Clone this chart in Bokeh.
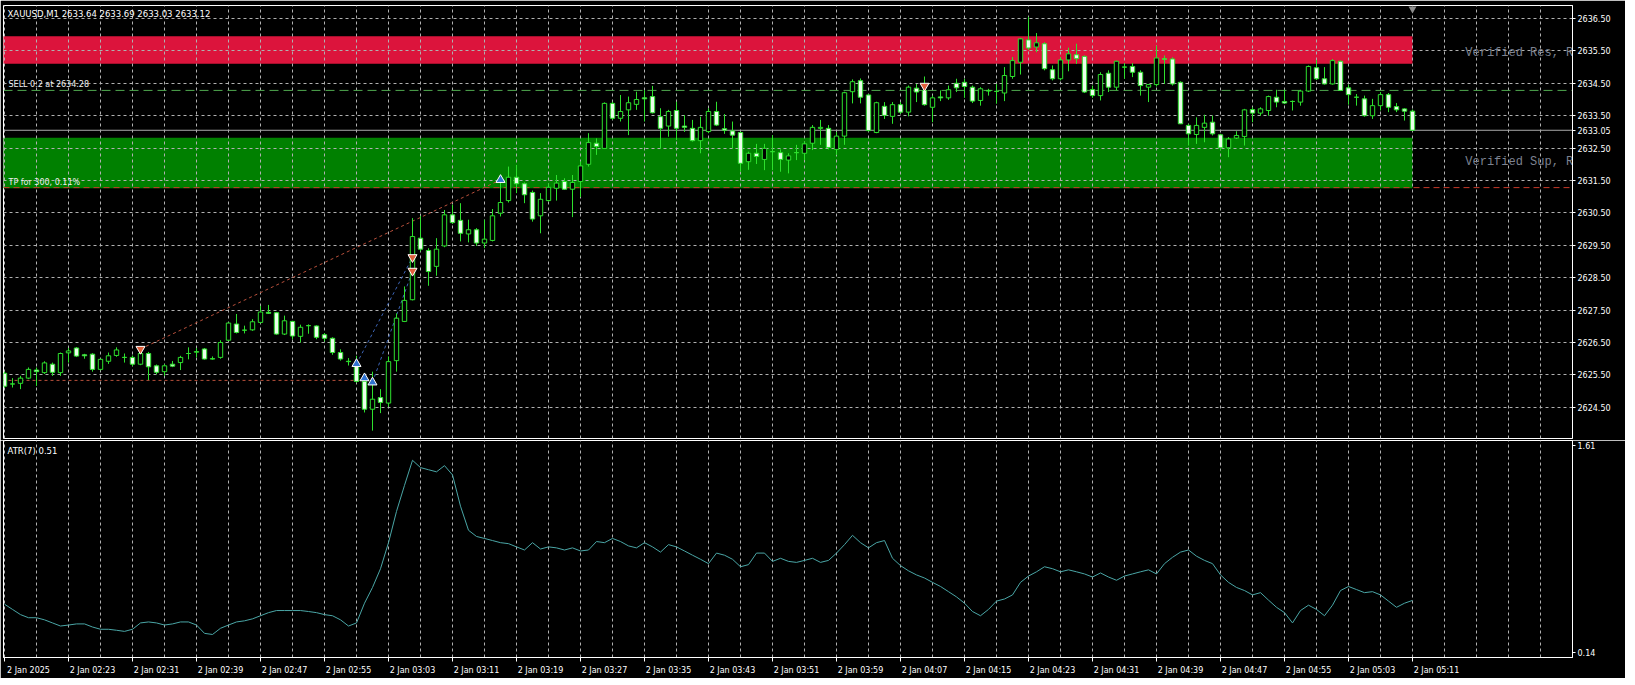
from bokeh.plotting import figure
from bokeh.models import Range1d, LinearAxis, FixedTicker, Grid, PrintfTickFormatter, Span
from bokeh.layouts import column
from bokeh.embed import file_html
from bokeh.resources import INLINE
from bokeh.core.properties import value

# ---------------- data ----------------
opens = [2625.55,2625.22,2625.24,2625.40,2625.65,2625.57,2625.83,2625.57,2626.18,2626.33,
         2626.12,2626.14,2625.67,2625.92,2626.10,2626.04,2626.04,2625.83,2626.16,2625.78,
         2625.60,2625.83,2625.88,2626.16,2626.20,2626.30,2626.00,2626.04,2626.57,2627.07,
         2626.88,2626.89,2627.12,2627.43,2627.42,2626.76,2627.15,2626.69,2627.02,2627.01,
         2626.74,2626.63,2626.19,2625.91,2625.76,2625.30,2624.44,2624.80,2624.63,2625.94,
         2627.15,2627.82,2629.72,2629.34,2628.85,2629.48,2630.44,2630.27,2629.85,2629.98,
         2629.57,2629.65,2630.49,2630.88,2631.60,2631.40,2631.13,2630.41,2630.88,2631.26,
         2631.47,2631.23,2631.47,2632.00,2632.65,2632.49,2633.88,2633.42,2633.68,2633.85,
         2634.05,2634.09,2633.47,2633.18,2633.66,2633.18,2633.11,2632.73,2633.01,2633.63,
         2633.10,2633.03,2632.98,2632.08,2632.34,2632.15,2632.39,2632.36,2632.13,2632.36,
         2632.34,2632.65,2633.11,2633.11,2632.46,2632.87,2634.24,2634.58,2634.14,2632.98,
         2633.79,2633.48,2633.84,2633.61,2634.35,2634.28,2633.76,2634.08,2634.05,2634.50,
         2634.53,2634.38,2633.97,2634.28,2634.25,2634.20,2634.71,2635.15,2635.84,2635.62,
         2635.72,2634.92,2634.64,2635.22,2635.38,2635.33,2634.31,2634.12,2634.81,2634.38,
         2635.00,2635.02,2634.84,2634.38,2634.46,2635.26,2635.25,2634.53,2633.20,2632.92,
         2633.14,2633.30,2632.91,2632.51,2632.81,2632.86,2633.69,2633.58,2633.66,2634.07,
         2633.94,2633.94,2633.92,2634.26,2634.98,2634.64,2634.48,2635.18,2634.36,2634.07,
         2634.02,2633.50,2633.81,2634.15,2633.78,2633.71,2633.64]
highs = [2625.60,2625.40,2625.47,2625.73,2625.73,2625.92,2625.88,2626.19,2626.33,2626.36,
         2626.15,2626.17,2626.00,2626.19,2626.35,2626.16,2626.10,2626.20,2626.21,2625.82,
         2625.83,2625.93,2626.09,2626.35,2626.33,2626.33,2626.07,2626.57,2627.12,2627.38,
         2627.02,2627.22,2627.63,2627.66,2627.44,2627.33,2627.17,2627.05,2627.06,2627.03,
         2626.79,2626.66,2626.29,2626.02,2626.09,2625.55,2625.60,2625.06,2626.07,2627.40,
         2628.23,2630.34,2630.41,2629.41,2629.72,2630.59,2630.75,2630.80,2630.29,2630.03,
         2630.29,2630.62,2631.57,2631.93,2631.98,2631.44,2631.19,2631.11,2631.40,2631.67,
         2631.57,2631.67,2632.09,2632.96,2632.80,2633.91,2633.93,2634.14,2634.09,2634.24,
         2634.29,2634.42,2633.73,2633.68,2633.93,2633.52,2633.37,2633.47,2633.73,2633.93,
         2633.55,2633.32,2633.01,2632.39,2632.63,2632.63,2632.90,2632.46,2632.34,2632.60,
         2632.70,2633.21,2633.37,2633.21,2633.00,2634.24,2634.62,2634.65,2634.17,2633.93,
         2633.92,2633.92,2633.92,2634.43,2634.48,2634.71,2634.12,2634.28,2634.43,2634.64,
         2634.64,2634.43,2634.38,2634.33,2634.48,2635.00,2635.31,2635.90,2636.55,2636.05,
         2635.77,2635.05,2635.31,2635.60,2635.72,2635.36,2634.43,2634.84,2634.90,2635.20,
         2635.12,2635.12,2634.90,2634.48,2635.66,2635.36,2635.30,2634.56,2633.25,2633.45,
         2633.53,2633.50,2632.94,2632.84,2633.02,2633.71,2633.76,2633.76,2634.12,2634.30,
         2634.30,2633.97,2634.30,2635.05,2635.22,2635.00,2635.25,2635.20,2634.46,2634.17,
         2634.12,2634.02,2634.23,2634.20,2633.89,2633.73,2633.69]
lows = [2625.10,2625.11,2625.06,2625.37,2625.16,2625.53,2625.47,2625.47,2625.88,2626.05,
        2626.00,2625.60,2625.64,2625.84,2626.06,2625.88,2625.77,2625.80,2625.34,2625.52,
        2625.47,2625.74,2625.65,2625.98,2626.04,2625.97,2625.97,2626.00,2626.55,2626.78,
        2626.78,2626.86,2627.09,2627.38,2626.74,2626.73,2626.60,2626.50,2626.77,2626.60,
        2626.53,2626.12,2625.94,2625.79,2625.26,2624.34,2623.78,2624.32,2624.52,2625.60,
        2627.13,2627.80,2629.31,2628.25,2628.56,2629.44,2630.16,2629.62,2629.59,2629.48,
        2629.41,2629.62,2630.39,2630.82,2631.11,2630.80,2630.23,2629.87,2630.85,2630.88,
        2631.21,2630.37,2630.99,2631.93,2632.29,2632.47,2633.37,2633.32,2632.90,2633.68,
        2633.32,2633.57,2632.49,2632.85,2632.75,2633.00,2632.70,2632.34,2632.96,2633.18,
        2632.94,2632.49,2631.77,2631.83,2632.01,2631.82,2631.82,2631.77,2631.72,2632.13,
        2632.13,2632.44,2632.60,2632.46,2632.29,2632.60,2633.88,2633.88,2633.01,2632.96,
        2633.40,2633.25,2633.56,2633.48,2633.92,2633.81,2633.30,2633.95,2633.99,2634.23,
        2634.05,2633.89,2633.81,2634.12,2633.87,2633.95,2634.64,2634.77,2635.53,2635.46,
        2634.90,2634.59,2634.59,2634.87,2635.10,2634.20,2634.05,2633.97,2634.23,2634.28,
        2634.64,2634.69,2634.12,2633.92,2634.40,2634.48,2634.43,2633.25,2632.58,2632.63,
        2632.68,2632.89,2632.44,2632.22,2632.78,2632.58,2633.30,2633.50,2633.50,2633.76,
        2633.86,2633.66,2633.81,2634.23,2634.60,2634.46,2634.46,2634.26,2633.84,2633.81,
        2633.47,2633.40,2633.66,2633.61,2633.61,2633.35,2633.03]
closes = [2625.15,2625.22,2625.40,2625.67,2625.60,2625.87,2625.58,2626.16,2626.24,2626.08,
          2626.09,2625.67,2625.98,2626.09,2626.27,2626.04,2625.83,2626.16,2625.75,2625.58,
          2625.78,2625.77,2626.04,2626.16,2626.22,2625.99,2625.99,2626.50,2627.10,2626.81,
          2626.88,2627.14,2627.44,2627.40,2626.76,2627.17,2626.70,2626.97,2627.02,2626.66,
          2626.63,2626.19,2625.99,2625.92,2625.30,2624.44,2624.75,2624.65,2625.91,2627.25,
          2627.80,2629.77,2629.38,2628.69,2629.38,2630.44,2630.20,2629.87,2629.98,2629.57,
          2629.69,2630.41,2630.82,2631.60,2631.40,2631.06,2630.31,2630.92,2631.29,2631.42,
          2631.23,2631.44,2631.95,2632.67,2632.55,2633.88,2633.42,2633.63,2633.90,2634.00,
          2634.02,2633.59,2633.11,2633.63,2633.11,2633.14,2632.73,2633.14,2633.63,2633.21,
          2633.05,2632.90,2632.03,2632.34,2632.24,2632.49,2632.39,2632.15,2632.26,2632.36,
          2632.63,2633.14,2633.14,2632.52,2632.87,2634.21,2634.55,2634.07,2633.04,2633.90,
          2633.51,2633.84,2633.61,2634.38,2634.23,2633.84,2634.05,2634.05,2634.30,2634.36,
          2634.40,2633.95,2634.33,2634.26,2634.25,2634.74,2635.20,2635.87,2635.59,2635.75,
          2634.95,2634.64,2635.22,2635.41,2635.26,2634.23,2634.12,2634.77,2634.38,2635.18,
          2635.00,2634.84,2634.43,2634.46,2635.28,2635.24,2634.48,2633.25,2632.94,2633.20,
          2633.27,2632.94,2632.51,2632.78,2632.89,2633.68,2633.58,2633.71,2634.09,2633.92,
          2633.89,2633.94,2634.26,2635.02,2634.64,2634.48,2635.20,2634.28,2634.15,2634.07,
          2633.50,2633.81,2634.15,2633.76,2633.68,2633.64,2633.05]
atr = [0.483,0.446,0.409,0.387,0.387,0.372,0.350,0.328,0.335,0.343,
       0.343,0.321,0.305,0.305,0.298,0.290,0.305,0.350,0.357,0.350,
       0.335,0.343,0.357,0.357,0.335,0.276,0.268,0.312,0.335,0.357,
       0.365,0.379,0.401,0.423,0.438,0.438,0.438,0.438,0.431,0.423,
       0.409,0.401,0.372,0.328,0.350,0.490,0.602,0.735,0.920,1.142,
       1.327,1.505,1.453,1.438,1.423,1.467,1.401,1.179,1.008,0.964,
       0.950,0.935,0.920,0.913,0.890,0.868,0.920,0.875,0.890,0.883,
       0.868,0.883,0.861,0.868,0.928,0.920,0.950,0.928,0.897,0.883,
       0.920,0.890,0.853,0.906,0.890,0.861,0.831,0.802,0.771,0.846,
       0.831,0.802,0.749,0.764,0.846,0.846,0.787,0.809,0.787,0.780,
       0.794,0.809,0.780,0.794,0.846,0.906,0.972,0.920,0.883,0.920,
       0.935,0.809,0.757,0.720,0.691,0.669,0.638,0.609,0.572,0.535,
       0.490,0.431,0.401,0.446,0.505,0.520,0.549,0.638,0.683,0.713,
       0.749,0.735,0.713,0.727,0.713,0.698,0.676,0.705,0.676,0.653,
       0.683,0.698,0.713,0.727,0.698,0.771,0.816,0.853,0.868,0.824,
       0.794,0.771,0.691,0.638,0.602,0.580,0.549,0.565,0.512,0.461,
       0.423,0.350,0.438,0.476,0.446,0.401,0.476,0.580,0.609,0.587,
       0.565,0.572,0.549,0.505,0.461,0.490,0.510]
time_labels = ["2 Jan 2025", "2 Jan 02:23", "2 Jan 02:31", "2 Jan 02:39", "2 Jan 02:47",
               "2 Jan 02:55", "2 Jan 03:03", "2 Jan 03:11", "2 Jan 03:19", "2 Jan 03:27",
               "2 Jan 03:35", "2 Jan 03:43", "2 Jan 03:51", "2 Jan 03:59", "2 Jan 04:07",
               "2 Jan 04:15", "2 Jan 04:23", "2 Jan 04:31", "2 Jan 04:39", "2 Jan 04:47",
               "2 Jan 04:55", "2 Jan 05:03", "2 Jan 05:11"]
price_ticks = [2624.5, 2625.5, 2626.5, 2627.5, 2628.5, 2629.5, 2630.5,
               2631.5, 2632.5, 2633.5, 2634.5, 2635.5, 2636.5]
atr_ticks = [0.14, 1.61]
res_zone = [2635.10, 2635.95]
sup_zone = [2631.26, 2632.82]
sell_price = 2634.28
tp_price = 2631.28
current_price = 2633.05
sell_x = [17, 51, 51, 115]
sell_y = [2626.30, 2629.13, 2628.71, 2634.42]
buy_x = [44, 45, 46, 62]
buy_y = [2625.84, 2625.40, 2625.27, 2631.52]
red_links = {"x0": [17, -1], "y0": [2626.30, 2625.33], "x1": [62, 45], "y1": [2631.52, 2625.33]}
blue_links = {"x0": [44, 46], "y0": [2625.84, 2625.27], "x1": [51, 51], "y1": [2629.13, 2628.71]}
header = "XAUUSD,M1  2633.64 2633.69 2633.03 2633.12"

# ---------------- styling ----------------
FONT = "DejaVu Sans"
GRID = "#b0b0b0"
CANDLE = "#2ee02e"
BEAR_FILL = "#eaffea"
n = len(closes)
idx = list(range(n))
last = n - 1
XR = Range1d(-0.125, 196.0)

p1 = figure(width=1625, height=440, x_range=XR, y_range=Range1d(2623.537, 2636.901),
            x_axis_type=None, y_axis_type=None, output_backend="svg", toolbar_location=None,
            background_fill_color="black", border_fill_color="black",
            min_border_left=3, min_border_right=53, min_border_top=5, min_border_bottom=2)
p1.outline_line_color = "white"

# zones (behind grid)
p1.quad(left=[-1], right=[last], bottom=[res_zone[0]], top=[res_zone[1]],
        fill_color="#dc143c", line_color=None, level="image")
p1.quad(left=[-1], right=[last], bottom=[sup_zone[0]], top=[sup_zone[1]],
        fill_color="#008000", line_color=None, level="image")

vgrid = list(range(0, 200, 4))
p1.add_layout(Grid(dimension=0, ticker=FixedTicker(ticks=vgrid), grid_line_color=GRID,
                   grid_line_dash="3 3", grid_line_width=1))
p1.add_layout(Grid(dimension=1, ticker=FixedTicker(ticks=price_ticks), grid_line_color=GRID,
                   grid_line_dash="3 3", grid_line_width=1))

# horizontal trade lines
p1.add_layout(Span(location=sell_price, dimension="width", line_color="#4fa84f",
                   line_dash="9 5", line_width=1, level="underlay"))
p1.add_layout(Span(location=tp_price, dimension="width", line_color="#c83a2a",
                   line_dash="6 4", line_width=1, level="underlay"))
p1.add_layout(Span(location=current_price, dimension="width", line_color="#a8a8a8",
                   line_width=1, level="underlay"))

# trade connectors
p1.segment(x0=red_links["x0"], y0=red_links["y0"], x1=red_links["x1"], y1=red_links["y1"],
           line_color="#b8503c", line_dash="3 3", line_width=1)
p1.segment(x0=blue_links["x0"], y0=blue_links["y0"], x1=blue_links["x1"], y1=blue_links["y1"],
           line_color="#3c64b4", line_dash="3 3", line_width=1)

# candles
p1.segment(x0=idx, y0=lows, x1=idx, y1=highs, line_color=CANDLE, line_width=1)
tops = [max(o, c) for o, c in zip(opens, closes)]
bots = [min(o, c) for o, c in zip(opens, closes)]
fills = ["black" if c >= o else BEAR_FILL for o, c in zip(opens, closes)]
p1.vbar(x=idx, width=0.55, top=tops, bottom=bots, fill_color=fills, line_color=CANDLE, line_width=1)

# trade arrows
p1.scatter(x=sell_x, y=sell_y, marker="inverted_triangle", size=9,
           fill_color="#e0603c", line_color="white", line_width=1)
p1.scatter(x=buy_x, y=buy_y, marker="triangle", size=9,
           fill_color="#2f72d0", line_color="white", line_width=1)
# chart-shift marker
p1.scatter(x=[last], y=[2636.80], marker="inverted_triangle", size=8,
           fill_color="#8c8c8c", line_color=None)

# texts
p1.text(x=[0.375], y=[2636.65], text=[header], text_color="white",
        text_font=value(FONT), text_font_size=value("8.5px"), text_baseline="middle")
p1.text(x=[0.5], y=[2634.46], text=["SELL 0.2 at 2634.28"], text_color="#eeeeee",
        text_font=value(FONT), text_font_size=value("8px"), text_baseline="middle")
p1.text(x=[0.5], y=[2631.44], text=["TP for 300, 0.11%"], text_color="#eeeeee",
        text_font=value(FONT), text_font_size=value("8px"), text_baseline="middle")
p1.text(x=[182.6, 182.6], y=[2635.45, 2632.06], text=["Verified Res, Res", "Verified Sup, Res"],
        text_color="#7c8290", text_font=value("Liberation Mono"), text_font_size=value("12px"),
        text_baseline="middle")

# price scale, including the current bid price
yax = LinearAxis(ticker=FixedTicker(ticks=price_ticks + [current_price]),
                 formatter=PrintfTickFormatter(format="%.2f"),
                 axis_line_color="white", major_tick_line_color="white", major_tick_in=0,
                 major_tick_out=3, minor_tick_line_color=None, major_label_standoff=2,
                 major_label_text_color="white", major_label_text_font=FONT,
                 major_label_text_font_size="8px")
p1.add_layout(yax, "right")

# ---------------- ATR panel ----------------
p2 = figure(width=1625, height=238, x_range=XR, y_range=Range1d(0.1045, 1.6455),
            x_axis_type=None, y_axis_type=None, output_backend="svg", toolbar_location=None,
            background_fill_color="black", border_fill_color="black",
            min_border_left=3, min_border_right=53, min_border_top=0, min_border_bottom=21)
p2.outline_line_color = "white"
p2.add_layout(Grid(dimension=0, ticker=FixedTicker(ticks=vgrid), grid_line_color=GRID,
                   grid_line_dash="3 3", grid_line_width=1))
p2.line(x=idx, y=atr, line_color="#4aa6a6", line_width=1)
p2.text(x=[0.375], y=[1.574], text=["ATR(7) 0.51"], text_color="white",
        text_font=value(FONT), text_font_size=value("8.5px"), text_baseline="middle")

label_pos = [8 * k for k in range(len(time_labels))]
label_ticks = [p + 3 for p in label_pos]
xax = LinearAxis(ticker=FixedTicker(ticks=label_ticks, minor_ticks=label_pos),
                 major_label_overrides={t: s for t, s in zip(label_ticks, time_labels)},
                 axis_line_color="white", major_tick_line_color=None, major_tick_out=0,
                 major_tick_in=0, minor_tick_line_color="white", minor_tick_out=4,
                 minor_tick_in=0, major_label_standoff=4,
                 major_label_text_color="white", major_label_text_font=FONT,
                 major_label_text_font_size="8px")
p2.add_layout(xax, "below")
ax2 = LinearAxis(ticker=FixedTicker(ticks=atr_ticks), formatter=PrintfTickFormatter(format="%.2f"),
                 axis_line_color="white", major_tick_line_color="white", major_tick_in=0,
                 major_tick_out=3, minor_tick_line_color=None, major_label_standoff=2,
                 major_label_text_color="white", major_label_text_font=FONT,
                 major_label_text_font_size="8px")
p2.add_layout(ax2, "right")

layout = column(p1, p2, spacing=0)
open("out.html", "w").write(file_html(layout, INLINE))
